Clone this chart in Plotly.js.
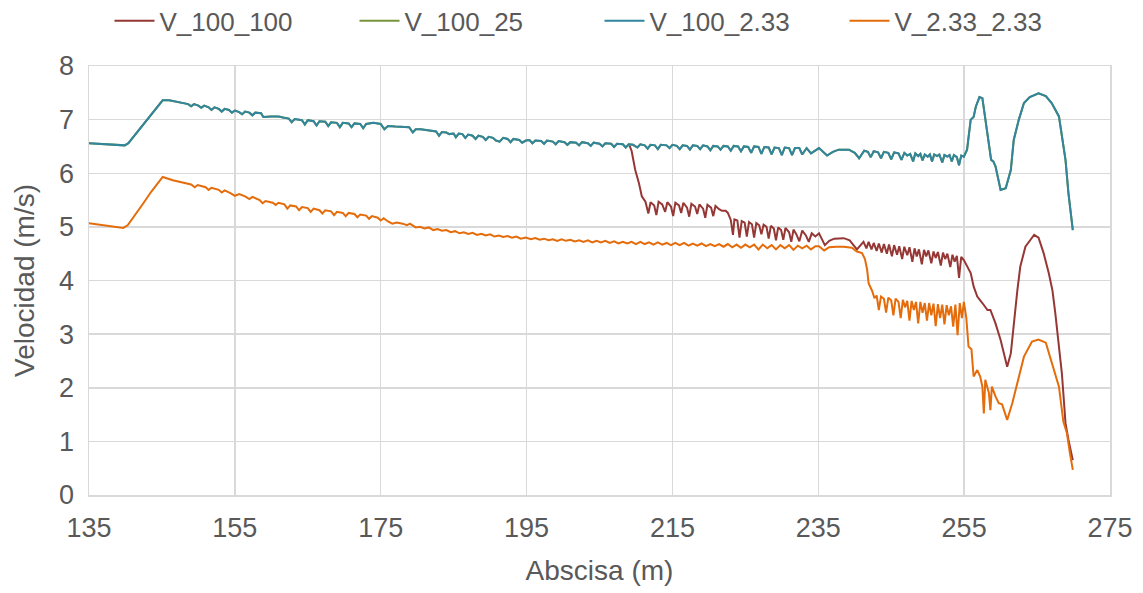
<!DOCTYPE html>
<html>
<head>
<meta charset="utf-8">
<script src="https://cdn.plot.ly/plotly-3.0.1.min.js"></script>
<style>html,body{margin:0;padding:0;background:#fff}#chart{width:1143px;height:593px}</style>
</head>
<body>
<div id="chart"></div>
<script>
// Series names
const seriesNames = ["V_100_100", "V_100_25", "V_100_2.33", "V_2.33_2.33"];

// V_100_2.33 (blue) — abscisa (m) and velocidad (m/s)
const blueX = [135.0,136.5,138.0,139.9,140.4,141.5,142.5,143.5,144.5,145.1,146.0,147.0,148.0,148.6,149.0,149.4,150.0,150.4,150.8,151.4,151.8,152.2,152.8,153.2,153.6,154.2,154.6,155.0,155.6,156.0,156.4,157.0,157.4,157.8,158.6,158.9,160.0,161.0,161.6,162.4,162.8,163.2,164.2,164.6,165.0,165.8,166.2,166.6,167.4,167.8,168.2,169.0,169.4,169.8,170.6,171.0,171.4,172.2,172.6,173.0,174.0,175.0,175.5,176.0,177.0,178.0,178.9,179.4,179.8,180.5,181.2,181.8,182.6,183.0,183.4,184.0,184.4,185.0,185.3,185.7,186.2,186.6,187.0,187.6,188.0,188.4,189.0,189.4,189.8,190.4,190.8,191.3,191.8,192.4,192.8,193.2,194.0,194.4,194.9,195.4,195.8,196.2,197.0,197.4,197.8,198.6,199.0,199.4,200.2,200.6,201.0,201.8,202.2,202.6,203.4,203.8,204.2,205.0,205.4,205.8,206.6,207.0,207.4,208.2,208.6,209.0,209.6,210.2,210.6,211.2,211.6,212.0,212.6,213.0,213.4,214.2,214.6,215.0,215.6,216.0,216.4,217.0,217.4,217.8,218.4,218.8,219.2,219.8,220.2,220.6,221.2,221.6,222.0,222.6,223.0,223.4,224.0,224.4,224.8,225.4,225.8,226.2,226.8,227.2,227.6,228.2,228.6,229.0,229.6,230.0,230.4,231.0,231.4,231.8,232.4,232.8,233.4,234.0,235.1,236.2,237.0,237.8,239.2,240.0,240.6,241.3,241.8,242.2,242.6,243.2,243.6,244.0,244.6,245.0,245.4,246.0,246.4,246.8,247.2,247.6,248.0,248.3,248.7,249.0,249.3,249.6,250.0,250.3,250.6,250.9,251.3,251.6,252.0,252.3,252.7,253.0,253.3,253.6,254.0,254.3,254.6,254.96,255.4,255.9,256.3,256.6,257.1,257.5,258.0,258.4,258.7,259.0,259.3,260.0,260.7,261.4,261.8,262.5,263.2,264.0,265.2,266.2,267.0,268.0,268.4,268.9,269.3,269.9];
const blueY = [6.56,6.55,6.54,6.52,6.56,6.75,6.93,7.10,7.27,7.36,7.36,7.33,7.31,7.29,7.25,7.29,7.26,7.22,7.26,7.23,7.18,7.23,7.20,7.15,7.20,7.18,7.13,7.17,7.14,7.10,7.15,7.13,7.08,7.13,7.12,7.05,7.06,7.06,7.04,7.02,6.95,7.01,6.99,6.91,6.99,6.97,6.89,6.97,6.96,6.88,6.95,6.94,6.86,6.94,6.93,6.86,6.93,6.92,6.84,6.92,6.94,6.92,6.82,6.88,6.87,6.87,6.86,6.76,6.82,6.82,6.81,6.79,6.78,6.70,6.77,6.76,6.73,6.74,6.67,6.74,6.73,6.66,6.72,6.70,6.64,6.70,6.68,6.62,6.68,6.66,6.61,6.59,6.66,6.64,6.58,6.64,6.62,6.57,6.61,6.62,6.56,6.61,6.60,6.55,6.61,6.59,6.54,6.60,6.58,6.53,6.58,6.57,6.52,6.58,6.56,6.51,6.57,6.55,6.50,6.56,6.55,6.49,6.55,6.54,6.48,6.54,6.53,6.48,6.54,6.52,6.46,6.53,6.52,6.45,6.53,6.52,6.47,6.53,6.51,6.45,6.52,6.51,6.44,6.52,6.51,6.45,6.52,6.50,6.43,6.51,6.50,6.44,6.51,6.50,6.42,6.51,6.50,6.41,6.50,6.49,6.38,6.50,6.49,6.36,6.49,6.48,6.35,6.48,6.47,6.34,6.48,6.47,6.34,6.47,6.47,6.35,6.47,6.37,6.47,6.33,6.40,6.44,6.44,6.38,6.28,6.42,6.40,6.30,6.41,6.39,6.28,6.40,6.38,6.26,6.39,6.37,6.25,6.38,6.33,6.36,6.22,6.37,6.32,6.36,6.24,6.35,6.31,6.35,6.22,6.35,6.32,6.35,6.20,6.34,6.31,6.34,6.22,6.34,6.30,6.15,6.33,6.31,6.44,7.00,7.05,7.24,7.42,7.40,6.93,6.55,6.25,6.22,6.13,5.69,5.72,6.06,6.62,7.00,7.31,7.42,7.49,7.44,7.31,7.06,6.68,6.25,5.63,4.94];

// V_100_25 (green) coincides with V_100_2.33 in the reference; it lies beneath it
const greenX = blueX;
const greenY = blueY;

// V_100_100 (dark red) — separates from the blue curve near 209 m
const redX = [209.1,209.4,209.9,210.4,210.8,211.3,211.7,212.0,212.5,212.8,213.1,213.6,214.0,214.3,214.8,215.1,215.4,215.9,216.2,216.5,217.0,217.3,217.6,218.1,218.4,218.7,219.2,219.5,219.8,220.3,220.6,220.9,221.4,221.8,222.3,222.6,223.0,223.3,223.5,223.9,224.2,224.5,224.9,225.2,225.5,225.9,226.2,226.5,226.9,227.2,227.5,227.9,228.2,228.5,228.9,229.2,229.5,229.9,230.2,230.5,231.0,231.3,231.6,232.0,232.4,232.8,233.3,233.7,234.1,234.6,235.1,235.9,236.5,237.2,238.5,239.3,240.3,241.2,241.6,241.9,242.3,242.6,243.0,243.3,243.7,244.0,244.4,244.7,245.1,245.4,245.8,246.1,246.5,246.8,247.2,247.5,247.9,248.2,248.5,248.8,249.2,249.5,249.8,250.1,250.5,250.8,251.1,251.4,251.8,252.1,252.4,252.7,253.1,253.4,253.7,254.0,254.3,254.6,254.96,255.3,255.9,256.3,256.8,257.5,258.2,258.6,259.3,260.0,260.4,260.9,261.4,261.8,262.3,262.7,263.4,264.1,264.6,265.2,265.9,266.6,267.1,267.5,268.0,268.4,268.6,268.9,269.3,269.9];
const redY = [6.52,6.42,6.06,5.82,5.57,5.47,5.25,5.46,5.40,5.22,5.47,5.42,5.28,5.46,5.38,5.20,5.45,5.40,5.26,5.45,5.36,5.19,5.43,5.38,5.24,5.42,5.34,5.17,5.41,5.36,5.20,5.39,5.33,5.30,5.30,5.26,5.13,4.85,5.14,5.12,4.80,5.11,5.08,4.82,5.09,5.05,4.80,5.07,5.03,4.86,5.04,5.00,4.78,5.02,4.97,4.75,4.99,4.94,4.76,4.98,4.90,4.72,4.95,4.86,4.73,4.93,4.84,4.72,4.88,4.82,4.88,4.66,4.74,4.78,4.79,4.75,4.58,4.72,4.60,4.72,4.58,4.70,4.55,4.69,4.52,4.68,4.50,4.67,4.45,4.66,4.48,4.64,4.40,4.63,4.47,4.62,4.35,4.60,4.45,4.58,4.30,4.57,4.45,4.56,4.32,4.54,4.42,4.53,4.28,4.52,4.40,4.50,4.25,4.48,4.35,4.46,4.05,4.44,4.38,4.30,4.14,3.89,3.70,3.58,3.45,3.45,3.20,2.89,2.64,2.39,2.64,3.20,3.82,4.26,4.63,4.76,4.85,4.80,4.51,4.14,3.82,3.39,2.83,2.27,1.90,1.34,1.03,0.65];

// V_2.33_2.33 (orange)
const orangeX = [135.0,137.0,139.7,140.3,141.5,142.5,143.5,144.5,145.1,146.5,148.0,149.0,149.5,149.9,151.0,151.4,151.8,152.8,153.2,153.6,154.4,155.0,155.6,156.4,157.0,157.4,158.4,158.8,159.2,160.2,160.6,161.0,161.8,162.2,162.6,163.4,163.8,164.2,165.0,165.4,165.8,166.6,167.0,167.4,168.2,168.6,169.0,169.8,170.2,170.6,171.4,171.8,172.2,173.0,173.4,173.8,174.6,175.0,175.4,176.0,176.6,177.2,178.0,178.6,179.0,179.8,180.4,181.0,181.6,182.2,182.8,183.4,184.0,184.6,185.2,185.8,186.4,187.0,187.6,188.2,188.8,189.4,190.0,190.6,191.2,191.8,192.4,193.0,193.6,194.2,194.9,195.6,196.2,196.8,197.4,198.0,198.6,199.2,199.8,200.4,201.0,201.6,202.2,202.8,203.4,204.0,204.6,205.2,205.8,206.4,207.0,207.6,208.2,208.8,209.4,210.0,210.6,211.2,211.8,212.4,213.0,213.6,214.2,214.8,215.4,216.0,216.6,217.2,217.8,218.4,219.0,219.6,220.2,220.8,221.4,222.0,222.6,223.2,223.8,224.4,225.0,225.6,226.2,226.8,227.4,228.0,228.6,229.2,229.8,230.4,231.0,231.6,232.2,232.8,233.4,234.0,234.6,235.1,235.8,236.5,237.5,238.5,239.6,240.3,241.0,241.4,241.7,241.9,242.4,242.7,243.0,243.3,243.6,244.0,244.3,244.6,245.0,245.3,245.6,246.0,246.3,246.6,246.9,247.2,247.5,247.8,248.1,248.4,248.7,249.0,249.3,249.6,249.9,250.2,250.5,250.8,251.1,251.4,251.7,252.0,252.3,252.6,252.9,253.2,253.5,253.8,254.1,254.4,254.7,254.96,255.3,255.6,256.0,256.3,256.8,257.2,257.5,257.7,257.9,258.4,258.6,258.8,259.3,259.75,260.2,260.9,261.6,262.3,263.2,264.3,265.2,266.2,266.8,267.5,268.0,268.6,269.1,269.5,269.9];
const orangeY = [5.07,5.03,4.98,5.03,5.25,5.45,5.65,5.83,5.93,5.87,5.82,5.79,5.74,5.78,5.74,5.69,5.73,5.69,5.64,5.68,5.63,5.58,5.61,5.57,5.52,5.56,5.50,5.44,5.48,5.45,5.41,5.45,5.42,5.34,5.40,5.38,5.31,5.37,5.35,5.28,5.34,5.31,5.25,5.31,5.29,5.22,5.28,5.26,5.20,5.26,5.24,5.18,5.23,5.21,5.15,5.20,5.17,5.12,5.16,5.10,5.06,5.08,5.06,5.03,5.06,4.99,5.00,4.97,4.99,4.94,4.96,4.93,4.94,4.90,4.92,4.88,4.90,4.87,4.89,4.85,4.87,4.84,4.86,4.82,4.84,4.81,4.83,4.80,4.82,4.78,4.80,4.77,4.79,4.76,4.78,4.75,4.77,4.74,4.77,4.74,4.76,4.73,4.75,4.72,4.75,4.71,4.74,4.71,4.74,4.70,4.73,4.69,4.72,4.69,4.72,4.68,4.72,4.68,4.71,4.67,4.71,4.67,4.70,4.66,4.70,4.66,4.70,4.65,4.69,4.65,4.69,4.64,4.68,4.64,4.68,4.63,4.68,4.62,4.67,4.61,4.67,4.62,4.67,4.58,4.67,4.60,4.66,4.58,4.66,4.60,4.66,4.57,4.65,4.60,4.65,4.58,4.64,4.64,4.56,4.62,4.63,4.63,4.61,4.54,4.51,4.40,4.20,3.95,3.80,3.67,3.72,3.45,3.70,3.66,3.40,3.68,3.63,3.35,3.66,3.60,3.30,3.64,3.50,3.62,3.25,3.62,3.45,3.60,3.20,3.60,3.40,3.58,3.25,3.58,3.35,3.57,3.15,3.56,3.30,3.55,3.18,3.54,3.35,3.52,3.14,3.55,2.98,3.58,3.30,3.60,3.30,2.77,2.72,2.21,2.33,2.21,2.02,1.52,2.15,1.90,1.58,2.02,1.84,1.71,1.69,1.40,1.71,2.08,2.58,2.86,2.90,2.84,2.58,2.27,2.02,1.37,1.15,0.78,0.47];

// Axis ticks
const xTicks = [135, 155, 175, 195, 215, 235, 255, 275];
const yTicks = [0, 1, 2, 3, 4, 5, 6, 7, 8];

const colors = ["#953735", "#77933C", "#31859C", "#E46C0A"];
const FONT = "'Liberation Sans', Arial, sans-serif";
const TXT = "#595959";
const GRID = "#D9D9D9";

const xs = [redX, greenX, blueX, orangeX];
const ys = [redY, greenY, blueY, orangeY];
const traces = seriesNames.map((n, i) => ({
  type: "scatter", mode: "lines", name: n,
  x: xs[i], y: ys[i],
  line: {color: colors[i], width: 2}
}));

const layout = {
  width: 1143, height: 593,
  margin: {l: 89, r: 33, t: 66, b: 98, autoexpand: false},
  paper_bgcolor: "#fff", plot_bgcolor: "#fff",
  font: {family: FONT, color: TXT, size: 26},
  showlegend: true,
  legend: {
    orientation: "h", xref: "paper", yref: "paper",
    x: 0.5, xanchor: "center", y: 1.16, yanchor: "top",
    font: {family: FONT, size: 26, color: TXT},
    entrywidth: 190, entrywidthmode: "pixels",
    itemwidth: 40, tracegroupgap: 0
  },
  xaxis: {
    range: [135, 275], tickvals: xTicks, ticktext: xTicks.map(String),
    showgrid: true, gridcolor: GRID, gridwidth: 1.5,
    showline: true, linecolor: GRID, linewidth: 1.5, mirror: true,
    zeroline: false, ticks: "", ticklabelstandoff: 8,
    tickfont: {family: FONT, size: 27, color: TXT},
    title: {text: "Abscisa (m)", font: {family: FONT, size: 28, color: TXT}, standoff: 18}
  },
  yaxis: {
    range: [0, 8], tickvals: yTicks, ticktext: yTicks.map(String),
    showgrid: true, gridcolor: GRID, gridwidth: 1.5,
    showline: true, linecolor: GRID, linewidth: 1.5, mirror: true,
    zeroline: false, ticks: "", ticklabelstandoff: 8,
    tickfont: {family: FONT, size: 27, color: TXT},
    title: {text: "Velocidad (m/s)", font: {family: FONT, size: 28, color: TXT}, standoff: 16}
  }
};

Plotly.newPlot("chart", traces, layout, {displayModeBar: false, staticPlot: true});
</script>
</body>
</html>
